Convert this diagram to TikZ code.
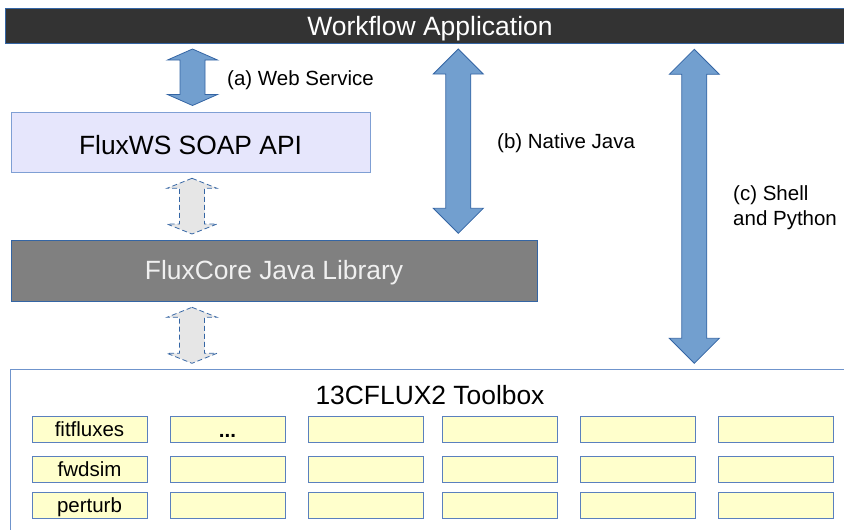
\documentclass[tikz,border=0pt]{standalone}
\usepackage{fontspec}
\setmainfont{Liberation Sans}
\definecolor{arrfill}{HTML}{729FCF}
\definecolor{arrline}{HTML}{3465A4}
\definecolor{wsfill}{HTML}{E6E6FC}
\definecolor{wsline}{HTML}{7F9FD4}
\definecolor{corefill}{HTML}{808080}
\definecolor{barfill}{HTML}{333333}
\definecolor{toolline}{HTML}{6F94CC}
\definecolor{ybox}{HTML}{FFFFCC}
\definecolor{yline}{HTML}{5A80BE}
\definecolor{dashfill}{HTML}{E6E6E6}
\newcommand{\dblarr}[5]{%
  \draw[#1] (#2,#3) -- (#2+25,#3+#5) -- (#2+12.5,#3+#5) -- (#2+12.5,#4-#5) -- (#2+25,#4-#5) -- (#2,#4)
    -- (#2-25,#4-#5) -- (#2-12.5,#4-#5) -- (#2-12.5,#3+#5) -- (#2-25,#3+#5) -- cycle;}
\begin{document}
\begin{tikzpicture}[x=1pt,y=-1pt,
  bigtxt/.style={font=\fontsize{26.4}{30}\selectfont, anchor=base},
  lbl/.style={font=\fontsize{20.5}{25}\selectfont, anchor=base west, inner sep=0pt},
  blockarr/.style={fill=arrfill, draw=arrline, line width=0.8pt, line join=miter},
  dasharr/.style={fill=dashfill, draw=arrline, line width=0.8pt, dash pattern=on 5pt off 3pt},
  toolcell/.style={draw=yline, fill=ybox, line width=0.9pt, minimum width=115pt, minimum height=25.5pt, inner sep=0pt},
  celltxt/.style={font=\fontsize{20.5}{24}\selectfont, anchor=base}
]
\useasboundingbox (0,0) rectangle (844,530);
\clip (0,0) rectangle (844,530);
% top bar
\node[draw=arrline, fill=barfill, line width=1pt, inner sep=0pt, anchor=north west,
  minimum width=846pt, minimum height=35pt] (bar) at (5,8) {};
\node[text=white, font=\fontsize{26.5}{30}\selectfont, anchor=base] (bartxt) at (430,35) {Workflow Application};
% FluxWS
\node[draw=wsline, fill=wsfill, line width=1pt, anchor=north west, minimum width=359pt, minimum height=60pt, inner sep=0pt] (ws) at (11,112.3) {};
\node[bigtxt] (wstxt) at (190.5,154.5) {FluxWS SOAP API};
% FluxCore
\node[draw=arrline, fill=corefill, line width=1pt, anchor=north west, minimum width=526pt, minimum height=61pt, inner sep=0pt] (core) at (11,239.5) {};
\node[bigtxt, text=black!6] (coretxt) at (274,279.5) {FluxCore Java Library};
% Toolbox
\node[draw=toolline, line width=1pt, anchor=north west, minimum width=850pt, minimum height=200pt, inner sep=0pt] (tool) at (9.5,368.5) {};
\node[bigtxt] (tooltxt) at (430,404.5) {13CFLUX2 Toolbox};
% cells
\foreach \cx [count=\i] in {32,170,308,442,580,718}{
  \foreach \cy [count=\j] in {416,456.3,492.3}{
    \node[toolcell, anchor=north west] (c\i\j) at (\cx,\cy) {};
  }
}
\node[celltxt] (t11) at (89.5,436.5) {fitfluxes};
\node[celltxt] (t12) at (89.5,476.5) {fwdsim};
\node[celltxt] (t13) at (89.5,512.5) {perturb};
\node[celltxt, font=\bfseries\fontsize{20.5}{24}\selectfont] (t21) at (227.5,437) {...};
% block arrows
\dblarr{blockarr}{192.5}{49}{105.5}{11}
\dblarr{blockarr}{458.3}{49}{233.3}{25}
\dblarr{blockarr}{694.3}{49.3}{363.3}{25}
\dblarr{dasharr}{192}{178.3}{234}{10}
\dblarr{dasharr}{192}{307.3}{363.3}{10}
% labels
\node[lbl] (la) at (227,85.5) {(a) Web Service};
\node[lbl] (lb) at (497,148.5) {(b) Native Java};
\node[lbl] (lc1) at (733,200.5) {(c) Shell};
\node[lbl] (lc2) at (733,225.5) {and Python};
\end{tikzpicture}
\end{document}
